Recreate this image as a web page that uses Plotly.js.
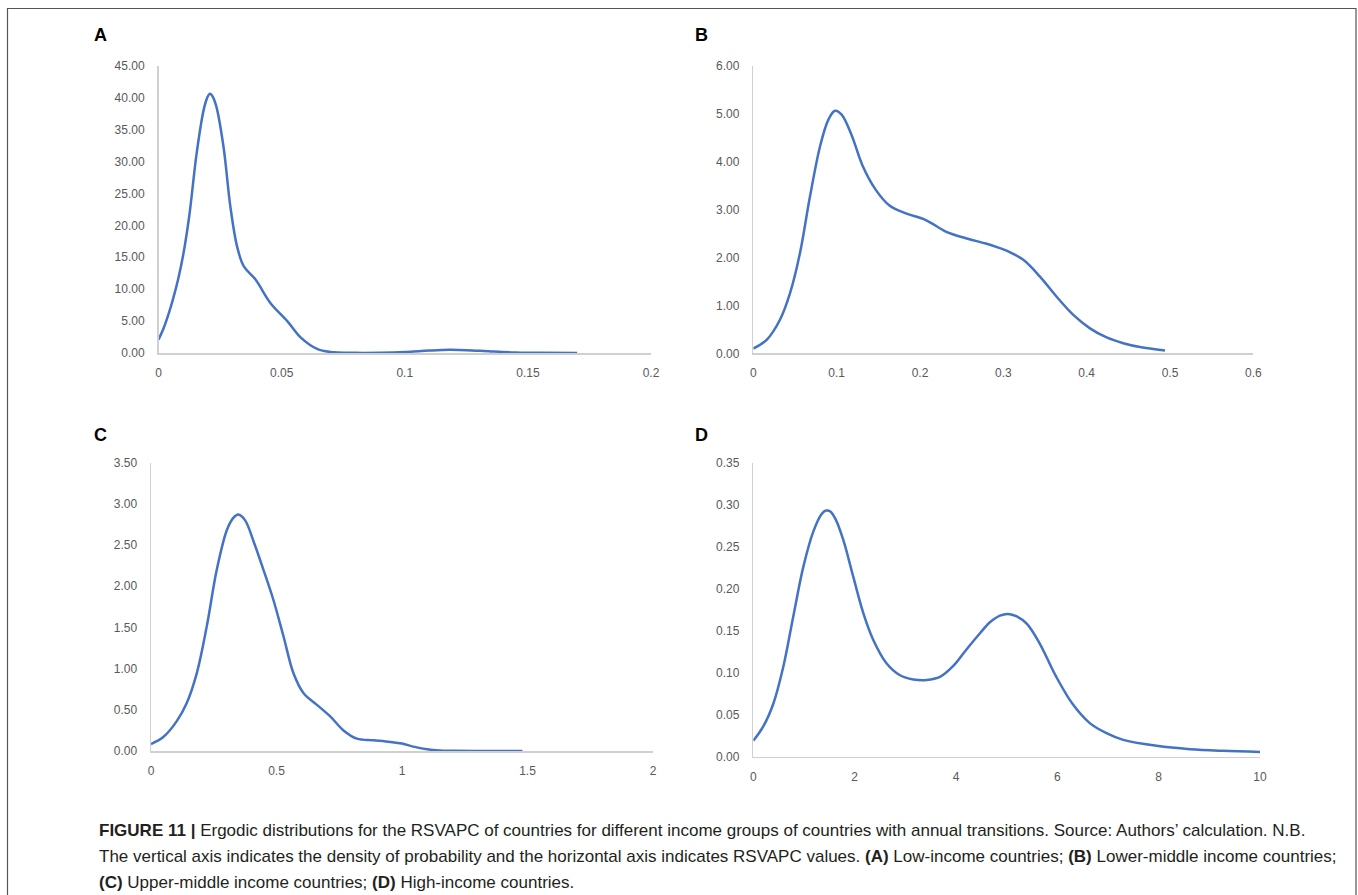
<!DOCTYPE html>
<html>
<head>
<meta charset="utf-8">
<script src="https://cdn.plot.ly/plotly-3.0.1.min.js"></script>
<style>html,body{margin:0;padding:0;background:#fff;}#chart{width:1358px;height:895px;}</style>
</head>
<body>
<div id="chart"></div>
<script>
// Panel A: Low-income countries
const xA = [0, 0.002, 0.004, 0.006, 0.008, 0.010, 0.0125, 0.0155, 0.0183, 0.0198, 0.0208, 0.0218, 0.0235, 0.0264, 0.0292, 0.0319, 0.0346, 0.0394, 0.0455, 0.0523, 0.0578, 0.0646, 0.0714, 0.08, 0.09, 0.1, 0.11, 0.118, 0.125, 0.135, 0.145, 0.155, 0.17];
const yA = [2.1, 3.8, 6.0, 8.6, 11.6, 15.3, 21.5, 31.3, 38.0, 40.0, 40.6, 40.3, 38.6, 32.3, 22.9, 16.7, 13.6, 11.5, 7.8, 5.0, 2.4, 0.6, 0.1, 0.02, 0.04, 0.15, 0.38, 0.5, 0.45, 0.25, 0.09, 0.02, 0.0];
// Panel B: Lower-middle income countries
const xB = [0, 0.016, 0.032, 0.044, 0.056, 0.068, 0.080, 0.090, 0.098, 0.106, 0.118, 0.131, 0.147, 0.163, 0.183, 0.207, 0.231, 0.255, 0.279, 0.295, 0.304, 0.324, 0.344, 0.364, 0.384, 0.404, 0.424, 0.444, 0.464, 0.494];
const yB = [0.10, 0.28, 0.70, 1.25, 2.09, 3.27, 4.31, 4.87, 5.06, 4.98, 4.55, 3.92, 3.41, 3.09, 2.92, 2.78, 2.54, 2.40, 2.29, 2.20, 2.14, 1.95, 1.60, 1.18, 0.80, 0.52, 0.33, 0.21, 0.13, 0.06];
// Panel C: Upper-middle income countries
const xC = [0, 0.049, 0.102, 0.142, 0.182, 0.222, 0.262, 0.302, 0.328, 0.348, 0.375, 0.408, 0.448, 0.488, 0.528, 0.568, 0.608, 0.661, 0.714, 0.767, 0.820, 0.887, 0.953, 1.0, 1.05, 1.1, 1.15, 1.2, 1.3, 1.48];
const yC = [0.085, 0.17, 0.36, 0.58, 0.94, 1.51, 2.20, 2.68, 2.83, 2.87, 2.80, 2.55, 2.20, 1.83, 1.39, 0.94, 0.70, 0.56, 0.42, 0.25, 0.15, 0.13, 0.11, 0.09, 0.05, 0.02, 0.006, 0.002, 0.0, 0.0];
// Panel D: High-income countries
const xD = [0, 0.197, 0.395, 0.592, 0.789, 0.987, 1.184, 1.349, 1.434, 1.52, 1.63, 1.776, 1.974, 2.171, 2.368, 2.632, 2.895, 3.158, 3.421, 3.684, 3.947, 4.211, 4.474, 4.67, 4.868, 5.03, 5.2, 5.4, 5.65, 5.98, 6.31, 6.64, 6.97, 7.30, 7.96, 8.62, 9.27, 10.0];
const yD = [0.019, 0.036, 0.063, 0.107, 0.167, 0.226, 0.268, 0.289, 0.293, 0.292, 0.282, 0.258, 0.214, 0.171, 0.139, 0.111, 0.097, 0.092, 0.0913, 0.095, 0.108, 0.128, 0.147, 0.160, 0.168, 0.170, 0.167, 0.158, 0.135, 0.095, 0.062, 0.040, 0.028, 0.020, 0.013, 0.009, 0.007, 0.0056];

const panelLabels = ["A", "B", "C", "D"];
const captionLines = [
  "<b>FIGURE 11 |</b> Ergodic distributions for the RSVAPC of countries for different income groups of countries with annual transitions. Source: Authors’ calculation. N.B.",
  "The vertical axis indicates the density of probability and the horizontal axis indicates RSVAPC values. <b>(A)</b> Low-income countries; <b>(B)</b> Lower-middle income countries;",
  "<b>(C)</b> Upper-middle income countries; <b>(D)</b> High-income countries."
];

const W = 1358, H = 895;
const px = v => v / W;
const py = v => 1 - v / H;
const lineColor = "#4472C4";
const tickFont = {family: "Liberation Sans, Arial, sans-serif", size: 12, color: "#595959"};

function mkTrace(x, y, xa, ya) {
  return {x: x, y: y, xaxis: xa, yaxis: ya, type: "scatter", mode: "lines",
    line: {color: lineColor, width: 2.5, shape: "spline", smoothing: 1},
    hoverinfo: "skip", showlegend: false};
}

function xAxis(l, r, range, dtick, anchor) {
  return {domain: [px(l), px(r)], range: range, dtick: dtick, tick0: 0, anchor: anchor,
    showgrid: false, zeroline: false, showline: true, linecolor: "#d0d0d0", linewidth: 1.5,
    ticks: "", tickfont: tickFont, ticklabelstandoff: 8, fixedrange: true};
}
function yAxis(t, b, range, dtick, anchor) {
  return {domain: [py(b), py(t)], range: range, dtick: dtick, tick0: 0, anchor: anchor,
    showgrid: false, zeroline: false, showline: true, linecolor: "#d0d0d0", linewidth: 1.5,
    ticks: "", tickfont: tickFont, tickformat: ".2f", ticklabelstandoff: 10, fixedrange: true};
}

const data = [
  mkTrace(xA, yA, "x", "y"),
  mkTrace(xB, yB, "x2", "y2"),
  mkTrace(xC, yC, "x3", "y3"),
  mkTrace(xD, yD, "x4", "y4")
];

const labelPos = [[92, 35], [693, 35], [92, 435], [693, 435]];
const annotations = panelLabels.map((t, i) => ({
  text: "<b>" + t + "</b>", xref: "paper", yref: "paper",
  x: px(labelPos[i][0]), y: py(labelPos[i][1]), xanchor: "left", yanchor: "middle",
  showarrow: false, font: {family: "Liberation Sans, Arial, sans-serif", size: 18, color: "#000"}
}));
const capY = [830, 856, 882];
captionLines.forEach((t, i) => {
  annotations.push({text: t, xref: "paper", yref: "paper", x: px(97), y: py(capY[i]),
    xanchor: "left", yanchor: "middle", showarrow: false, align: "left",
    font: {family: "Liberation Sans, Arial, sans-serif", size: 17, color: "#231f20"}});
});

const layout = {
  width: W, height: H, margin: {l: 0, r: 0, t: 0, b: 0},
  paper_bgcolor: "#fff", plot_bgcolor: "#fff", showlegend: false,
  xaxis: xAxis(158.5, 651, [0, 0.2], 0.05, "y"),
  yaxis: yAxis(65.7, 353, [0, 45], 5, "x"),
  xaxis2: xAxis(753.3, 1253.3, [0, 0.6], 0.1, "y2"),
  yaxis2: yAxis(65.7, 353.3, [0, 6], 1, "x2"),
  xaxis3: xAxis(151, 653, [0, 2], 0.5, "y3"),
  yaxis3: yAxis(462.7, 751, [0, 3.5], 0.5, "x3"),
  xaxis4: xAxis(753.3, 1260, [0, 10], 2, "y4"),
  yaxis4: yAxis(462.7, 756.7, [0, 0.35], 0.05, "x4"),
  annotations: annotations,
  shapes: [{type: "rect", xref: "paper", yref: "paper", x0: px(7.5), x1: px(1356), y0: -0.05, y1: py(8.5),
    line: {color: "#555555", width: 1.2}, fillcolor: "rgba(0,0,0,0)"}]
};

Plotly.newPlot("chart", data, layout, {displayModeBar: false, staticPlot: true});
</script>
</body>
</html>
